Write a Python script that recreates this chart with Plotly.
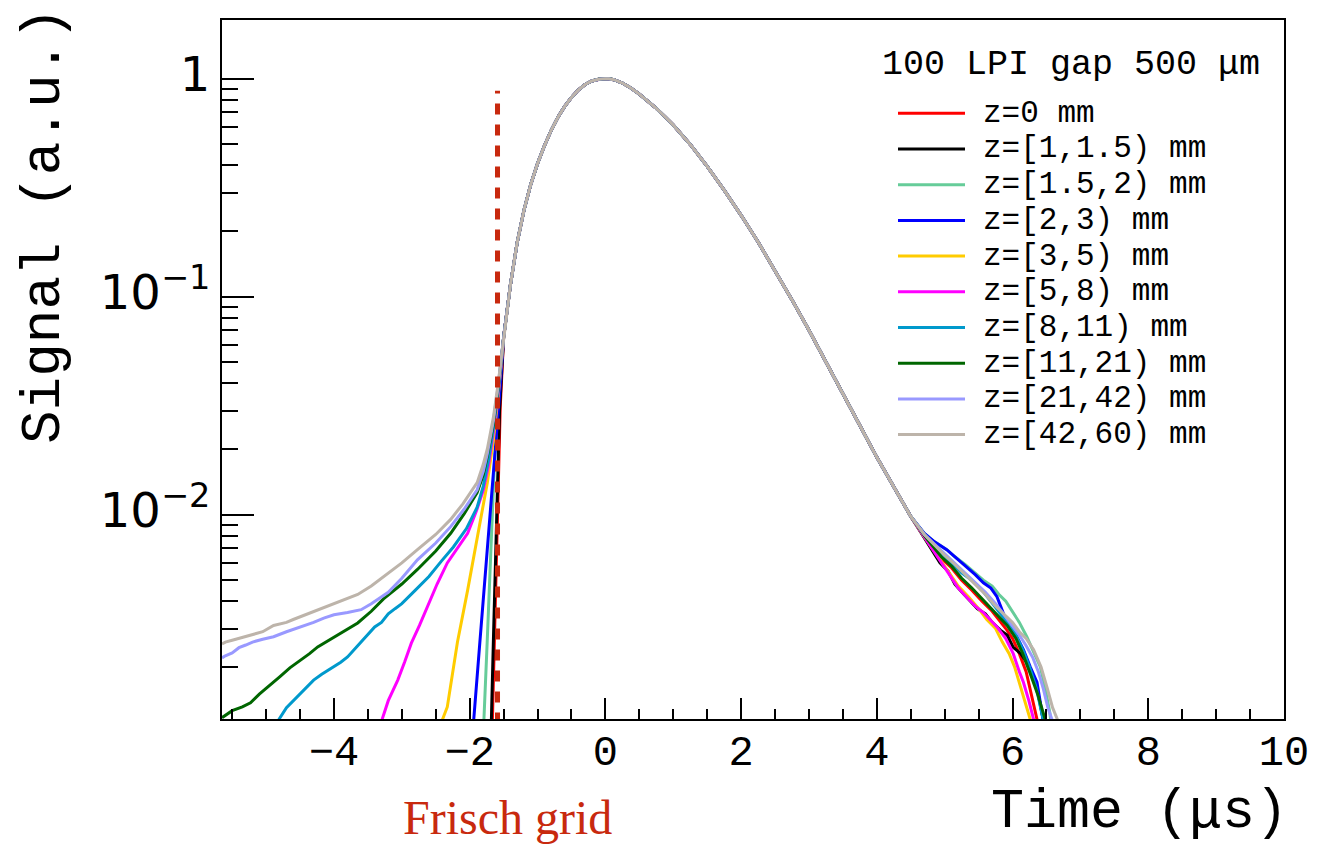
import plotly.graph_objects as go

# ---------------- data ----------------
series_names = ["z=0 mm", "z=[1,1.5) mm", "z=[1.5,2) mm", "z=[2,3) mm", "z=[3,5) mm",
                "z=[5,8) mm", "z=[8,11) mm", "z=[11,21) mm", "z=[21,42) mm", "z=[42,60) mm"]
series_colors = ["#ff0000", "#000000", "#66cc99", "#0000ff", "#ffcc00",
                 "#ff00ff", "#0099cc", "#006600", "#9999ff", "#bdb4aa"]

# common central part of the pulse (all series coincide here)
core_t = [-1.5, -1.4, -1.3, -1.2, -1.1, -1.0, -0.9, -0.8, -0.7, -0.6, -0.5, -0.4, -0.3, -0.2,
          -0.1, -0.05, 0.0, 0.05, 0.125, 0.25, 0.375, 0.5, 0.625, 0.75, 0.875, 1.0, 1.25, 1.5,
          1.75, 2.0, 2.25, 2.5, 2.75, 3.0, 3.25, 3.5, 3.75, 4.0, 4.25, 4.5]
core_v = [0.065, 0.113, 0.177, 0.249, 0.327, 0.408, 0.491, 0.578, 0.665, 0.746, 0.820, 0.887,
          0.940, 0.975, 0.994, 0.9985, 1.0, 0.998, 0.989, 0.955, 0.906, 0.849, 0.790, 0.730,
          0.670, 0.612, 0.499, 0.396, 0.308, 0.236, 0.178, 0.132, 0.0966, 0.070, 0.0503,
          0.0359, 0.0256, 0.0183, 0.0133, 0.0098]

# leading edges (before the Frisch grid crossing)
lead_t_z0 = [-1.675, -1.665, -1.635, -1.605, -1.58, -1.55]
lead_v_z0 = [0.001, 0.00115, 0.0027, 0.0065, 0.015, 0.031]
lead_t_z1 = [-1.69, -1.68, -1.65, -1.62, -1.59, -1.56]
lead_v_z1 = [0.001, 0.00115, 0.0027, 0.0065, 0.015, 0.030]
lead_t_z15 = [-1.80, -1.79, -1.74, -1.69, -1.64, -1.59, -1.55]
lead_v_z15 = [0.001, 0.00115, 0.0027, 0.0068, 0.016, 0.032, 0.045]
lead_t_z2 = [-1.96, -1.94, -1.85, -1.77, -1.70, -1.62, -1.56]
lead_v_z2 = [0.001, 0.00115, 0.0026, 0.0053, 0.0108, 0.020, 0.035]
lead_t_z3 = [-2.43, -2.40, -2.33, -2.18, -2.03, -1.89, -1.74, -1.65, -1.58]
lead_v_z3 = [0.001, 0.00115, 0.00131, 0.0026, 0.0045, 0.0077, 0.014, 0.022, 0.035]
lead_t_z5 = [-3.32, -3.29, -3.2, -3.06, -2.96, -2.86, -2.74, -2.62, -2.48, -2.33, -2.18, -2.03,
             -1.9, -1.8, -1.72, -1.65, -1.58]
lead_v_z5 = [0.001, 0.00115, 0.0014, 0.00174, 0.0021, 0.00257, 0.0031, 0.0038, 0.0048, 0.0060,
             0.0070, 0.0082, 0.0104, 0.0129, 0.017, 0.024, 0.036]
lead_t_z8 = [-4.85, -4.81, -4.7, -4.62, -4.53, -4.42, -4.3, -4.18, -4.0, -3.9, -3.8, -3.7, -3.6,
             -3.5, -3.4, -3.3, -3.2, -3.1, -3.0, -2.8, -2.6, -2.42, -2.24, -2.05, -1.89, -1.8,
             -1.72, -1.65, -1.58]
lead_v_z8 = [0.001, 0.00115, 0.0013, 0.00138, 0.00146, 0.0016, 0.00174, 0.00185, 0.0020, 0.0021,
             0.00222, 0.0024, 0.00258, 0.0028, 0.00305, 0.0032, 0.0035, 0.0037, 0.0039, 0.0045,
             0.0052, 0.0061, 0.0071, 0.0086, 0.0108, 0.0135, 0.018, 0.025, 0.037]
lead_t_z11 = [-5.65, -5.6, -5.5, -5.35, -5.23, -5.1, -5.0, -4.9, -4.8, -4.65, -4.49, -4.36, -4.24,
              -4.1, -3.9, -3.78, -3.65, -3.45, -3.27, -3.0, -2.77, -2.5, -2.28, -2.08, -1.89,
              -1.8, -1.74, -1.65, -1.58]
lead_v_z11 = [0.00117, 0.0012, 0.00126, 0.00131, 0.00137, 0.0015, 0.00159, 0.0017, 0.0018,
              0.00198, 0.00215, 0.0023, 0.00247, 0.00262, 0.00286, 0.003, 0.00318, 0.0036,
              0.0041, 0.0048, 0.0056, 0.0068, 0.0082, 0.0101, 0.0126, 0.0152, 0.0185, 0.026, 0.038]
lead_t_z21 = [-5.65, -5.6, -5.5, -5.4, -5.3, -5.2, -5.05, -4.89, -4.7, -4.49, -4.3, -4.15, -4.0,
              -3.8, -3.6, -3.45, -3.3, -3.2, -3.0, -2.77, -2.5, -2.28, -2.08, -1.89, -1.8,
              -1.74, -1.65, -1.58]
lead_v_z21 = [0.0022, 0.00225, 0.00232, 0.00245, 0.00252, 0.0026, 0.00268, 0.00275, 0.0029,
              0.00305, 0.0032, 0.00335, 0.00347, 0.00355, 0.00366, 0.0039, 0.0042, 0.0044, 0.0051,
              0.0062, 0.0074, 0.0088, 0.0106, 0.0130, 0.0158, 0.019, 0.027, 0.039]
lead_t_z42 = [-5.65, -5.6, -5.5, -5.4, -5.3, -5.23, -5.1, -5.05, -4.89, -4.7, -4.6, -4.49, -4.3,
              -4.1, -3.9, -3.8, -3.65, -3.45, -3.27, -3.0, -2.77, -2.5, -2.28, -2.1, -1.89, -1.8,
              -1.74, -1.65, -1.58]
lead_v_z42 = [0.00255, 0.0026, 0.00265, 0.0027, 0.00275, 0.0028, 0.00285, 0.0029, 0.0031,
              0.0032, 0.0033, 0.0034, 0.0036, 0.0038, 0.0040, 0.0041, 0.0043, 0.0047, 0.0052,
              0.0060, 0.0069, 0.0081, 0.0095, 0.0112, 0.0140, 0.017, 0.020, 0.028, 0.040]

# trailing tails (after t = 4.5 us)
tail_t_z0 = [4.7, 4.95, 5.1, 5.25, 5.4, 5.55, 5.7, 5.8, 5.9, 6.0, 6.1, 6.2, 6.28, 6.36, 6.38]
tail_v_z0 = [0.0080, 0.0063, 0.0057, 0.0050, 0.0045, 0.0040, 0.0036, 0.0033, 0.0030, 0.0027,
             0.0023, 0.0019, 0.0015, 0.00115, 0.001]
tail_t_z1 = [4.7, 4.85, 4.93, 5.05, 5.15, 5.23, 5.35, 5.48, 5.6, 5.7, 5.82, 5.92, 6.01, 6.12,
             6.21, 6.3, 6.36, 6.45, 6.47]
tail_v_z1 = [0.0078, 0.0066, 0.0060, 0.0055, 0.0048, 0.0045, 0.0041, 0.0037, 0.0035, 0.0032,
             0.00295, 0.0028, 0.00246, 0.0023, 0.0021, 0.0018, 0.0016, 0.00115, 0.001]
tail_t_z15 = [4.7, 4.85, 5.03, 5.15, 5.3, 5.45, 5.57, 5.7, 5.8, 5.9, 6.01, 6.1, 6.21, 6.3, 6.41,
              6.48, 6.55, 6.58]
tail_v_z15 = [0.0082, 0.0075, 0.0069, 0.0064, 0.0059, 0.0054, 0.0050, 0.0047, 0.0043, 0.0040,
              0.00355, 0.0032, 0.00275, 0.0024, 0.0020, 0.0016, 0.00123, 0.001]
tail_t_z2 = [4.7, 4.85, 5.03, 5.15, 5.3, 5.45, 5.57, 5.68, 5.77, 5.85, 5.92, 6.05, 6.16, 6.26,
             6.36, 6.45, 6.47]
tail_v_z2 = [0.0082, 0.0075, 0.0069, 0.0064, 0.0058, 0.0053, 0.00486, 0.0046, 0.0042, 0.0036,
             0.00318, 0.0028, 0.0024, 0.0020, 0.0017, 0.00115, 0.001]
tail_t_z3 = [4.7, 4.93, 5.05, 5.2, 5.35, 5.5, 5.62, 5.75, 5.85, 5.95, 6.03, 6.1, 6.18, 6.26, 6.28]
tail_v_z3 = [0.0079, 0.0062, 0.0055, 0.0047, 0.0042, 0.0037, 0.0033, 0.0030, 0.0026, 0.0023,
             0.0020, 0.0017, 0.0014, 0.00115, 0.001]
tail_t_z5 = [4.7, 4.93, 5.05, 5.2, 5.35, 5.45, 5.57, 5.67, 5.77, 5.9, 6.01, 6.1, 6.16, 6.24,
             6.31, 6.33]
tail_v_z5 = [0.0079, 0.0062, 0.0054, 0.0046, 0.0041, 0.0038, 0.00355, 0.0033, 0.00305, 0.0027,
             0.0023, 0.0019, 0.0017, 0.0014, 0.00115, 0.001]
tail_t_z8 = [4.7, 4.95, 5.1, 5.25, 5.4, 5.55, 5.68, 5.8, 5.92, 6.05, 6.15, 6.25, 6.35, 6.45, 6.47]
tail_v_z8 = [0.0081, 0.0066, 0.0060, 0.0054, 0.0050, 0.0045, 0.0040, 0.0036, 0.0032, 0.0028,
             0.0024, 0.0020, 0.0016, 0.00115, 0.001]
tail_t_z11 = [4.7, 4.95, 5.1, 5.25, 5.4, 5.55, 5.68, 5.8, 5.92, 6.05, 6.15, 6.25, 6.37, 6.48, 6.5]
tail_v_z11 = [0.0080, 0.0064, 0.0058, 0.0051, 0.0046, 0.0041, 0.0037, 0.0034, 0.0031, 0.0027,
              0.0023, 0.0019, 0.0015, 0.00115, 0.001]
tail_t_z21 = [4.7, 5.0, 5.15, 5.3, 5.45, 5.6, 5.75, 5.9, 6.0, 6.1, 6.2, 6.3, 6.38, 6.45, 6.52,
              6.58, 6.6]
tail_v_z21 = [0.0081, 0.0066, 0.0060, 0.0054, 0.0049, 0.0044, 0.0039, 0.0034, 0.0031, 0.0028,
              0.0025, 0.0022, 0.0019, 0.0016, 0.0013, 0.00115, 0.001]
tail_t_z42 = [4.7, 5.0, 5.15, 5.3, 5.45, 5.6, 5.75, 5.92, 6.0, 6.1, 6.2, 6.31, 6.42, 6.51, 6.59,
              6.66, 6.68]
tail_v_z42 = [0.0081, 0.0065, 0.0059, 0.0053, 0.0048, 0.0043, 0.0038, 0.0034, 0.0032, 0.0029,
              0.0027, 0.0024, 0.0020, 0.0016, 0.0013, 0.00115, 0.001]

lead_t = [lead_t_z0, lead_t_z1, lead_t_z15, lead_t_z2, lead_t_z3, lead_t_z5, lead_t_z8,
          lead_t_z11, lead_t_z21, lead_t_z42]
lead_v = [lead_v_z0, lead_v_z1, lead_v_z15, lead_v_z2, lead_v_z3, lead_v_z5, lead_v_z8,
          lead_v_z11, lead_v_z21, lead_v_z42]
tail_t = [tail_t_z0, tail_t_z1, tail_t_z15, tail_t_z2, tail_t_z3, tail_t_z5, tail_t_z8,
          tail_t_z11, tail_t_z21, tail_t_z42]
tail_v = [tail_v_z0, tail_v_z1, tail_v_z15, tail_v_z2, tail_v_z3, tail_v_z5, tail_v_z8,
          tail_v_z11, tail_v_z21, tail_v_z42]

frisch_t = -1.59
frisch_v = [0.0011, 0.88]

x_tickvals = [-4, -2, 0, 2, 4, 6, 8, 10]
y_tickvals = [0.01, 0.1, 1]
y_ticktext = ["10<sup>\u22122</sup>", "10<sup>\u22121</sup>", "1"]
y_minor = [m * 10.0 ** e for e in (-3, -2, -1) for m in range(2, 10)]

legend_title = "100 LPI gap 500 \u03bcm"
x_title = "Time (\u03bcs)"
y_title = "Signal (a.u.)"
grid_label = "Frisch grid"

# ---------------- layout helpers ----------------
W, H = 1328, 844
L, R, T, B = 222, 1284, 20, 719
MONO = "Liberation Mono, Courier New, monospace"
SANS = "DejaVu Sans, sans-serif"
SERIF = "Liberation Serif, Times New Roman, serif"
GRID_COLOR = "#c8290e"


def px(x):
    return (x - L) / (R - L)


def py(y):
    return (B - y) / (B - T)


fig = go.Figure()
for i, name in enumerate(series_names):
    t = lead_t[i] + core_t + tail_t[i]
    v = lead_v[i] + core_v + tail_v[i]
    fig.add_trace(go.Scatter(x=t, y=v, mode="lines", name=name,
                             line=dict(color=series_colors[i], width=3),
                             showlegend=False))

fig.add_trace(go.Scatter(x=[frisch_t, frisch_t], y=frisch_v, mode="lines",
                         line=dict(color=GRID_COLOR, width=5, dash="11px,10px"),
                         showlegend=False, name=grid_label))

# manual legend (ROOT style)
shapes = []
annotations = [dict(x=px(880), y=py(65), xref="paper", yref="paper", text=legend_title,
                    showarrow=False, xanchor="left", yanchor="middle",
                    font=dict(family=MONO, size=35, color="black"))]
leg_y0, leg_dy = 113.3, 35.7
for i, name in enumerate(series_names):
    yy = py(leg_y0 + i * leg_dy)
    shapes.append(dict(type="line", xref="paper", yref="paper", x0=px(898), x1=px(965),
                       y0=yy, y1=yy, line=dict(color=series_colors[i], width=3)))
    annotations.append(dict(x=px(981), y=yy, xref="paper", yref="paper", text=name,
                            showarrow=False, xanchor="left", yanchor="middle",
                            font=dict(family=MONO, size=31, color="black")))

annotations.append(dict(x=px(1290), y=py(812), xref="paper", yref="paper", text=x_title,
                        showarrow=False, xanchor="right", yanchor="middle",
                        font=dict(family=MONO, size=55, color="black")))
annotations.append(dict(x=px(44), y=py(226), xref="paper", yref="paper", text=y_title,
                        showarrow=False, xanchor="center", yanchor="middle", textangle=-90,
                        font=dict(family=MONO, size=56, color="black")))
annotations.append(dict(x=px(507), y=py(817), xref="paper", yref="paper", text=grid_label,
                        showarrow=False, xanchor="center", yanchor="middle",
                        font=dict(family=SERIF, size=48, color=GRID_COLOR)))

fig.update_layout(
    width=W, height=H,
    margin=dict(l=L, r=W - R, t=T, b=H - B, autoexpand=False),
    paper_bgcolor="white", plot_bgcolor="white",
    shapes=shapes, annotations=annotations,
    showlegend=False,
)
fig.update_xaxes(
    range=[-5.65, 10], tickmode="array", tickvals=x_tickvals,
    ticks="inside", ticklen=21, tickwidth=1.5, tickcolor="black",
    showline=True, linewidth=2, linecolor="black", mirror=True,
    showgrid=False, zeroline=False, ticklabelstandoff=-6,
    tickfont=dict(family=MONO, size=42, color="black"),
    minor=dict(tickmode="linear", tick0=0, dtick=0.5, ticks="inside", ticklen=10,
               tickwidth=1.5, tickcolor="black", showgrid=False),
)
fig.update_yaxes(
    type="log", range=[-2.938, 0.269], tickmode="array", tickvals=y_tickvals,
    ticktext=y_ticktext,
    ticks="inside", ticklen=32, tickwidth=1.5, tickcolor="black",
    showline=True, linewidth=2, linecolor="black", mirror=True,
    showgrid=False, zeroline=False, ticklabelshift=-4,
    tickfont=dict(family=SANS, size=48, color="black"),
    minor=dict(tickmode="array", tickvals=y_minor, ticks="inside", ticklen=16,
               tickwidth=1.5, tickcolor="black", showgrid=False),
)

fig.write_html("out.html")
